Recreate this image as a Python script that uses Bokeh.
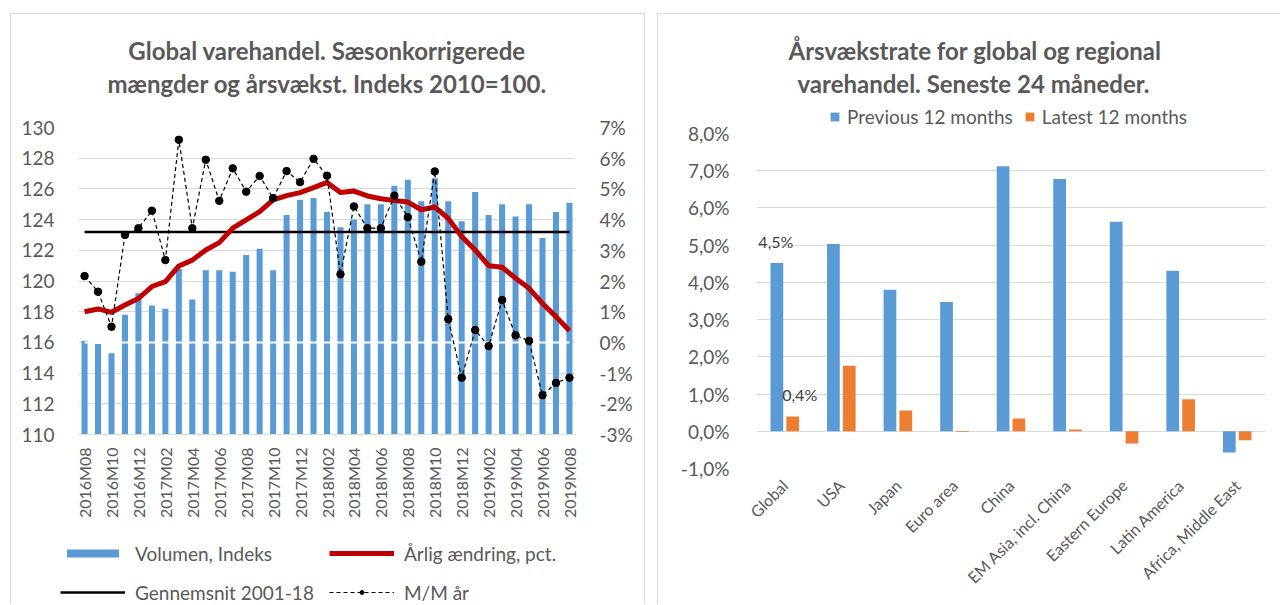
import math
from bokeh.plotting import figure
from bokeh.models import (Range1d, LinearAxis, FixedTicker, Legend, LegendItem, Title,
                          PrintfTickFormatter, ColumnDataSource)
from bokeh.transform import dodge
from bokeh.core.properties import value
from bokeh.embed import file_html
from bokeh.resources import INLINE

# ---------------- data: left chart ----------------
months = ["2016M08", "2016M09", "2016M10", "2016M11", "2016M12",
          "2017M01", "2017M02", "2017M03", "2017M04", "2017M05", "2017M06",
          "2017M07", "2017M08", "2017M09", "2017M10", "2017M11", "2017M12",
          "2018M01", "2018M02", "2018M03", "2018M04", "2018M05", "2018M06",
          "2018M07", "2018M08", "2018M09", "2018M10", "2018M11", "2018M12",
          "2019M01", "2019M02", "2019M03", "2019M04", "2019M05", "2019M06",
          "2019M07", "2019M08"]
volume_index = [116.1, 115.9, 115.3, 117.8, 119.2, 118.4, 118.2, 120.8, 118.8, 120.7,
                120.7, 120.6, 121.7, 122.1, 120.7, 124.3, 125.3, 125.4, 124.5, 123.5,
                124.0, 125.0, 125.0, 126.2, 126.6, 125.2, 126.7, 125.2, 123.9, 125.8,
                124.3, 125.0, 124.2, 125.0, 122.8, 124.5, 125.1]
annual_change = [1.00, 1.09, 0.98, 1.22, 1.43, 1.82, 1.98, 2.49, 2.68, 3.01,
                 3.25, 3.72, 3.99, 4.26, 4.64, 4.78, 4.88, 5.04, 5.21, 4.88,
                 4.93, 4.77, 4.68, 4.62, 4.57, 4.32, 4.41, 4.04, 3.45, 3.01,
                 2.50, 2.45, 2.09, 1.76, 1.27, 0.84, 0.38]
mm_annualized = [2.16, 1.65, 0.51, 3.50, 3.72, 4.29, 2.68, 6.60, 3.72, 5.95,
                 4.61, 5.67, 4.91, 5.42, 4.70, 5.58, 5.22, 5.98, 5.43, 2.22,
                 4.43, 3.72, 3.72, 4.78, 4.08, 2.63, 5.57, 0.76, -1.15, 0.40,
                 -0.12, 1.38, 0.23, 0.05, -1.72, -1.32, -1.15]
average_2001_18 = 3.6
left_ticks = [110, 112, 114, 116, 118, 120, 122, 124, 126, 128, 130]
right_ticks = [-3, -2, -1, 0, 1, 2, 3, 4, 5, 6, 7]
left_legend = ["Volumen, Indeks", "Årlig ændring, pct.", "Gennemsnit 2001-18", "M/M år"]

# ---------------- data: right chart ----------------
regions = ["Global", "USA", "Japan", "Euro area", "China", "EM Asia, incl. China",
           "Eastern Europe", "Latin America", "Africa, Middle East"]
previous_12m = [4.52, 5.03, 3.80, 3.47, 7.12, 6.78, 5.63, 4.31, -0.57]
latest_12m = [0.40, 1.76, 0.56, -0.02, 0.34, 0.05, -0.33, 0.86, -0.24]
pct_ticks = [-1, 0, 1, 2, 3, 4, 5, 6, 7, 8]
right_legend = ["Previous 12 months", "Latest 12 months"]

FONT = "Lato"
GREY = "#595959"
GRID = "#D9D9D9"
BLUE = "#5B9BD5"
RED = "#C00000"
ORANGE = "#ED7D31"
BORDER = "1px solid #D9D9D9"
NAN = float("nan")


def set_standoff(t, v):
    try:
        t.standoff = v
    except Exception:
        pass


def style_title(t, align, offset=0):
    t.align = align
    t.offset = offset
    t.text_font = FONT
    t.text_font_size = "24px"
    t.text_font_style = "bold"
    t.text_color = GREY
    set_standoff(t, 2)


def legend_figure(w, h, left, top):
    f = figure(width=w, height=h, x_range=Range1d(0, 1), y_range=Range1d(0, 1),
               x_axis_type=None, y_axis_type=None, output_backend="svg", toolbar_location=None,
               min_border=0)
    f.styles = {"position": "absolute", "left": f"{left}px", "top": f"{top}px"}
    f.outline_line_color = None
    f.grid.visible = False
    f.background_fill_alpha = 0
    f.border_fill_alpha = 0
    return f


# ================= LEFT FIGURE =================
x_idx = list(range(len(months)))
src = ColumnDataSource(dict(
    x=x_idx, vol=volume_index, ann=annual_change, mm=mm_annualized,
    avg=[average_2001_18] * len(months), zero=[0.0] * len(months)))

p1 = figure(width=635, height=591,
            x_range=Range1d(-0.45, len(months) - 0.55), y_range=Range1d(110, 130),
            output_backend="svg", toolbar_location=None,
            min_border_left=67, min_border_right=71, min_border_top=113, min_border_bottom=171)
p1.styles = {"position": "absolute", "left": "10px", "top": "13px",
             "border-left": BORDER, "border-top": BORDER, "border-right": BORDER}
p1.extra_y_ranges = {"pct": Range1d(-3, 7)}
p1.outline_line_color = None
p1.xgrid.grid_line_color = None
p1.ygrid.grid_line_color = GRID
p1.ygrid.grid_line_width = 1

bar_style = dict(fill_color=BLUE, line_color=None)
red_style = dict(line_color=RED, line_width=5, line_join="round")
avg_style = dict(line_color="black", line_width=2.5)
mm_style = dict(line_color="black", line_width=1.2, line_dash="4 3")
dot_style = dict(size=7.5, fill_color="black", line_color="black")

p1.vbar(x="x", top="vol", bottom=110, width=0.45, source=src, **bar_style)
p1.line(x="x", y="zero", source=src, y_range_name="pct", line_color="white", line_width=2)
p1.line(x="x", y="avg", source=src, y_range_name="pct", **avg_style)
p1.line(x="x", y="ann", source=src, y_range_name="pct", **red_style)
p1.line(x="x", y="mm", source=src, y_range_name="pct", **mm_style)
p1.scatter(x="x", y="mm", source=src, y_range_name="pct", **dot_style)

ya = p1.yaxis[0]
ya.ticker = FixedTicker(ticks=left_ticks)
ya2 = LinearAxis(y_range_name="pct", ticker=FixedTicker(ticks=right_ticks),
                 formatter=PrintfTickFormatter(format="%d%%"))
p1.add_layout(ya2, "right")
for ax in (ya, ya2):
    ax.axis_line_color = None
    ax.major_tick_line_color = None
    ax.minor_tick_line_color = None
    ax.major_label_text_font = FONT
    ax.major_label_text_font_size = "19px"
    ax.major_label_text_color = GREY
    ax.major_label_standoff = 18

xa = p1.xaxis[0]
xa.ticker = FixedTicker(ticks=x_idx[::2])
xa.major_label_overrides = {i: months[i] for i in x_idx[::2]}
xa.major_label_orientation = math.pi / 2
xa.axis_line_color = GRID
xa.major_tick_line_color = None
xa.minor_tick_line_color = None
xa.major_label_text_font = FONT
xa.major_label_text_font_size = "16px"
xa.major_label_text_color = GREY
xa.major_label_standoff = 7

p1.add_layout(Title(text=" ", text_font_size="16px"), "above")
t12 = Title(text="mængder og årsvækst. Indeks 2010=100.")
style_title(t12, "center")
p1.add_layout(t12, "above")
p1.title.text = "Global varehandel. Sæsonkorrigerede"
style_title(p1.title, "center")

# legend of the left chart (own small canvas below the axis labels)
l1 = legend_figure(540, 63, 60, 541)
blank = ColumnDataSource(dict(x=[NAN], y=[NAN]))
g_bar = l1.vbar(x="x", top="y", width=0.1, source=blank, **bar_style)
g_red = l1.line(x="x", y="y", source=blank, **red_style)
g_avg = l1.line(x="x", y="y", source=blank, **avg_style)
g_mm = l1.line(x="x", y="y", source=blank, **mm_style)
g_dot = l1.scatter(x="x", y="y", source=blank, **dot_style)
leg1 = Legend(items=[
    LegendItem(label=left_legend[0], renderers=[g_bar]),
    LegendItem(label=left_legend[1], renderers=[g_red]),
    LegendItem(label=left_legend[2], renderers=[g_avg]),
    LegendItem(label=left_legend[3], renderers=[g_mm, g_dot]),
], orientation="horizontal", ncols=2, location="top_left",
    glyph_width=65, glyph_height=10, label_height=24, label_standoff=10,
    spacing=15, padding=0, margin=0, border_line_color=None, background_fill_alpha=0,
    label_text_font=FONT, label_text_font_size="19px", label_text_color=GREY)
l1.add_layout(leg1)

# ================= RIGHT FIGURE =================
src2 = ColumnDataSource(dict(x=regions, prev=previous_12m, latest=latest_12m))
p2 = figure(width=623, height=591, x_range=regions, y_range=Range1d(-1, 8),
            output_backend="svg", toolbar_location=None,
            min_border_left=98, min_border_right=16, min_border_top=119, min_border_bottom=137)
p2.styles = {"position": "absolute", "left": "657px", "top": "13px",
             "border-left": BORDER, "border-top": BORDER}
p2.outline_line_color = None
p2.xgrid.grid_line_color = None
p2.ygrid.grid_line_color = GRID
p2.ygrid.grid_line_width = 1

p2.vbar(x=dodge("x", -0.14, range=p2.x_range), top="prev", width=0.225, source=src2,
        fill_color=BLUE, line_color=None)
p2.vbar(x=dodge("x", 0.14, range=p2.x_range), top="latest", width=0.225, source=src2,
        fill_color=ORANGE, line_color=None)

lab_src = ColumnDataSource(dict(
    x=[regions[0]], prev=[previous_12m[0]], latest=[latest_12m[0]],
    prev_txt=[f"{previous_12m[0]:.1f}%".replace(".", ",")],
    lat_txt=[f"{latest_12m[0]:.1f}%".replace(".", ",")]))
p2.text(x=dodge("x", -0.14, range=p2.x_range), y="prev", text="prev_txt", source=lab_src,
        text_align="center", text_baseline="bottom", y_offset=-12, x_offset=-1,
        text_font=value(FONT), text_font_size="16px", text_color="#404040")
p2.text(x=dodge("x", 0.14, range=p2.x_range), y="latest", text="lat_txt", source=lab_src,
        text_align="center", text_baseline="bottom", y_offset=-12, x_offset=7,
        text_font=value(FONT), text_font_size="16px", text_color="#404040")

ya = p2.yaxis[0]
ya.ticker = FixedTicker(ticks=pct_ticks)
ya.major_label_overrides = {t: f"{t:.1f}%".replace(".", ",") for t in pct_ticks}
ya.axis_line_color = None
ya.major_tick_line_color = None
ya.minor_tick_line_color = None
ya.major_label_text_font = FONT
ya.major_label_text_font_size = "19px"
ya.major_label_text_color = GREY
ya.major_label_standoff = 21

xa = p2.xaxis[0]
xa.axis_line_color = None
xa.major_tick_line_color = None
xa.major_label_orientation = math.pi / 4
xa.major_label_text_font = FONT
xa.major_label_text_font_size = "16px"
xa.major_label_text_color = GREY
xa.major_label_standoff = 8

p2.add_layout(Title(text=" ", text_font_size="21px"), "above")
t22 = Title(text="varehandel. Seneste 24 måneder.")
style_title(t22, "left", 41)
p2.add_layout(t22, "above")
p2.title.text = "Årsvækstrate for global og regional"
style_title(p2.title, "left", 32)

# legend of the right chart
l2 = legend_figure(380, 24, 829, 104)
blank2 = ColumnDataSource(dict(x=[NAN], y=[NAN]))
g_prev = l2.vbar(x="x", top="y", width=0.1, source=blank2, fill_color=BLUE, line_color=None)
g_lat = l2.vbar(x="x", top="y", width=0.1, source=blank2, fill_color=ORANGE, line_color=None)
leg2 = Legend(items=[LegendItem(label=right_legend[0], renderers=[g_prev]),
                     LegendItem(label=right_legend[1], renderers=[g_lat])],
              orientation="horizontal", location="top_left",
              glyph_width=11, glyph_height=11, label_height=24, label_standoff=7,
              spacing=11, padding=0, margin=0, border_line_color=None, background_fill_alpha=0,
              label_text_font=FONT, label_text_font_size="19px", label_text_color=GREY)
l2.add_layout(leg2)

open("out.html", "w").write(file_html((p1, p2, l1, l2), INLINE))
